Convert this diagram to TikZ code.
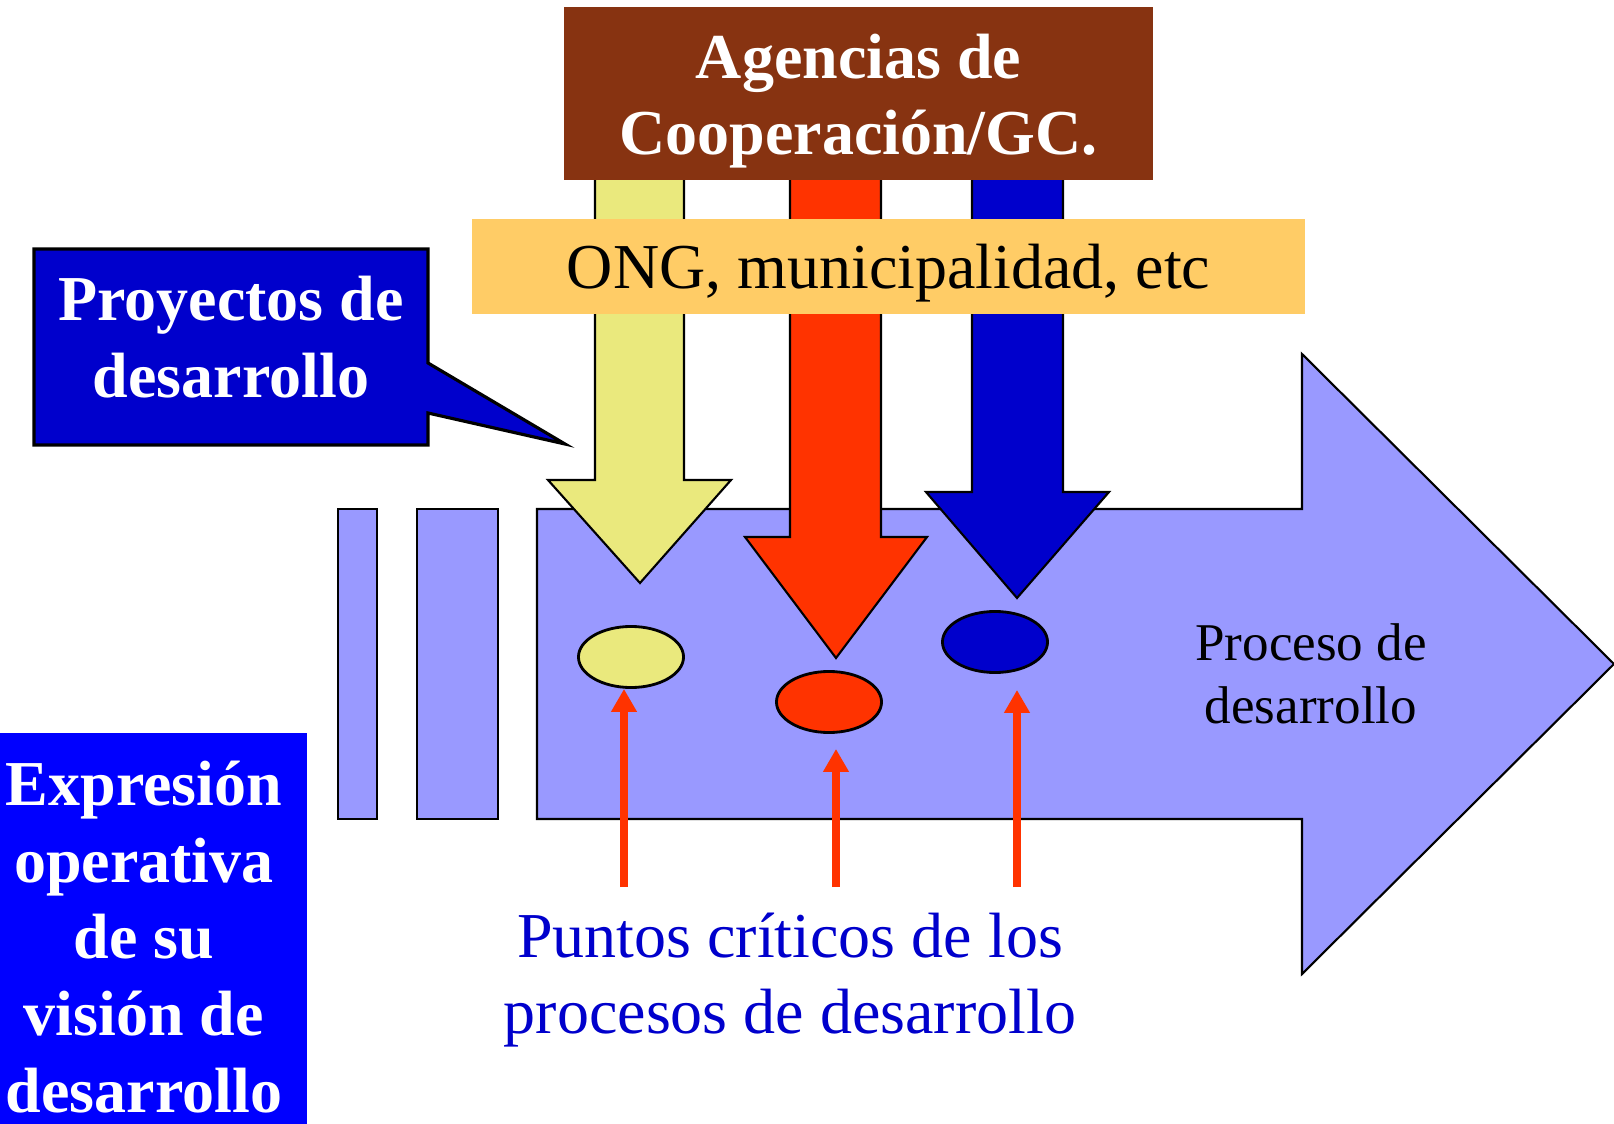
\documentclass[tikz,border=0pt]{standalone}
\usepackage{fontspec}
\setmainfont{Liberation Serif}
\usetikzlibrary{shapes.geometric,arrows.meta}
\definecolor{brownbox}{RGB}{135,51,17}
\definecolor{ongfill}{RGB}{255,204,102}
\definecolor{procfill}{RGB}{153,153,255}
\definecolor{yellowarr}{RGB}{234,233,125}
\definecolor{redarr}{RGB}{255,51,0}
\definecolor{bluearr}{RGB}{0,0,204}
\definecolor{brightblue}{RGB}{0,0,255}

\begin{document}
\begin{tikzpicture}
[x=0.01cm,y=-0.01cm,
box/.style={rectangle,inner sep=0pt,align=center,font=\fontsize{18.2}{21.6}\selectfont},
head/.style={box,text=white,font=\fontsize{18.2}{21.8}\selectfont\bfseries},
outline/.style={draw=black,line width=0.6pt},
spot/.style={ellipse,outline,line width=0.8pt,minimum width=1.05cm,minimum height=0.61cm,inner sep=0pt},
crit/.style={draw=redarr,line width=2pt,-{Triangle[width=0.245cm,length=0.23cm]}}]
\useasboundingbox (0,0) rectangle (1614,1124);
% proceso de desarrollo
\draw[outline,fill=procfill] (338,509) rectangle (377,819);
\draw[outline,fill=procfill] (417,509) rectangle (498,819);
\draw[outline,fill=procfill] (537,509) -- (1302,509) -- (1302,354) -- (1614,664)
  -- (1302,974) -- (1302,819) -- (537,819) -- cycle;
\node[font=\fontsize{15.1}{17.9}\selectfont,align=center] (proceso) at (1311,674) {Proceso de\\desarrollo};
% flechas de las agencias
\draw[outline,fill=yellowarr] (595,178) -- (684,178) -- (684,480) -- (731,480) -- (640,583)
  -- (548,480) -- (595,480) -- cycle;
\draw[outline,fill=redarr] (790,178) -- (881,178) -- (881,537) -- (927,537) -- (836,658)
  -- (745,537) -- (790,537) -- cycle;
\draw[outline,fill=bluearr] (972,178) -- (1063,178) -- (1063,492) -- (1109,492) -- (1017,598)
  -- (926,492) -- (972,492) -- cycle;
% puntos criticos
\node[spot,fill=yellowarr] (crit1) at (631,657) {};
\node[spot,fill=redarr] (crit2) at (829,702) {};
\node[spot,fill=bluearr] (crit3) at (995,642) {};
\coordinate (foot1) at (624,887);
\coordinate (foot2) at (836,887);
\coordinate (foot3) at (1017,887);
\draw[crit] (foot1) -- (foot1 |- crit1.south);
\draw[crit,shorten >=0.15cm] (foot2) -- (foot2 |- crit2.south);
\draw[crit,shorten >=0.16cm] (foot3) -- (foot3 |- crit3.south);
\node[box,text=bluearr] (puntos) at (790,980) {Puntos críticos de los\\procesos de desarrollo};
% cajas de arriba
\node[head,fill=brownbox,minimum width=5.89cm,minimum height=1.73cm] (agencias) at (858.5,93.5) {};
\node[head] (agenciastxt) at (858.5,101) {Agencias de\\Cooperación/GC.};
\node[box,fill=ongfill,minimum width=8.33cm,minimum height=0.95cm] (ong) at (888.5,266.5) {};
\node[box] (ongtxt) at (888.5,273.5) {ONG, municipalidad, etc};
% globo
\draw[fill=bluearr,draw=black,line width=0.9pt] (34,249) -- (428,249) -- (428,363) -- (565,444)
  -- (428,413) -- (428,445) -- (34,445) -- cycle;
\node[head] (proyectos) at (231,337) {Proyectos de\\desarrollo};
% caja izquierda
\node[fill=brightblue,minimum width=3.07cm,minimum height=3.91cm,inner sep=0pt] (visionbox) at (153.5,928.5) {};
\node[head] (vision) at (144,937) {Expresión\\operativa\\de su\\visión de\\desarrollo};
\end{tikzpicture}
\end{document}
